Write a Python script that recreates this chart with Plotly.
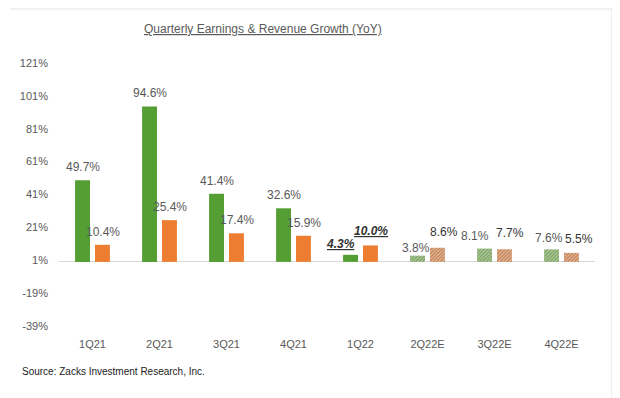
import plotly.graph_objects as go

quarters = ["1Q21", "2Q21", "3Q21", "4Q21", "1Q22", "2Q22E", "3Q22E", "4Q22E"]
earnings = [49.7, 94.6, 41.4, 32.6, 4.3, 3.8, 8.1, 7.6]
revenue = [10.4, 25.4, 17.4, 15.9, 10.0, 8.6, 7.7, 5.5]
estimate = [False, False, False, False, False, True, True, True]
y_ticks = [-39, -19, 1, 21, 41, 61, 81, 101, 121]

GREEN = "#559E34"
ORANGE = "#ED7D31"
GRAY = "#595959"
FONT = "Liberation Sans, Arial, sans-serif"


def pick(base, light):
    return [light if e else base for e in estimate]


fig = go.Figure()
fig.add_trace(go.Bar(
    x=quarters, y=earnings, name="Earnings",
    marker=dict(
        color=pick(GREEN, "#A9D18E"), line=dict(width=0),
        pattern=dict(shape=["/" if e else "" for e in estimate],
                     bgcolor=pick(GREEN, "#B0D696"), fgcolor=pick(GREEN, "#9BC781"),
                     size=2.5, solidity=0.4),
    ),
))
fig.add_trace(go.Bar(
    x=quarters, y=revenue, name="Revenue",
    marker=dict(
        color=pick(ORANGE, "#F4B183"), line=dict(width=0),
        pattern=dict(shape=["/" if e else "" for e in estimate],
                     bgcolor=pick(ORANGE, "#F6BA90"), fgcolor=pick(ORANGE, "#F1A676"),
                     size=2.5, solidity=0.4),
    ),
))

# label offsets in pixels (x relative to bar centre, y above bar top)
e_shift = [(0, 4), (0, 4), (0, 4), (0, 4), (-10, 2), (-2, -1), (-10, 4), (-3, 2)]
r_shift = [(0, 4), (0, 4), (0, 4), (0, 4), (0, 5), (6, 7), (5, 7), (7, 5)]
e_col = [GRAY, GRAY, GRAY, GRAY, "#333333", GRAY, GRAY, GRAY]
r_col = [GRAY, GRAY, GRAY, GRAY, "#333333", "#333333", "#333333", "#333333"]

for i, q in enumerate(quarters):
    for vals, shifts, cols, base in ((earnings, e_shift, e_col, -10), (revenue, r_shift, r_col, 10)):
        v = vals[i]
        txt = f"{v:.1f}%"
        if q == "1Q22":
            txt = f"<b><i><u>{txt}</u></i></b>"
        fig.add_annotation(
            x=q, y=v, text=txt, showarrow=False, yanchor="bottom",
            xshift=base + shifts[i][0], yshift=shifts[i][1],
            font=dict(family=FONT, size=12, color=cols[i]),
        )

fig.add_annotation(
    xref="paper", yref="paper", x=0.3807, y=1.0, yshift=34, yanchor="middle",
    text="<u>Quarterly Earnings & Revenue Growth (YoY)</u>", showarrow=False,
    font=dict(family=FONT, size=12, color=GRAY),
)
fig.add_annotation(
    xref="paper", yref="paper", x=-0.072, y=0, yshift=-45, xanchor="left", yanchor="middle",
    text="Source: Zacks Investment Research, Inc.", showarrow=False,
    font=dict(family=FONT, size=10, color="#222222"),
)

fig.update_layout(
    width=612, height=390,
    margin=dict(l=48.5, r=25, t=55, b=72),
    paper_bgcolor="white", plot_bgcolor="white",
    barmode="group", bargap=0.406, bargroupgap=0.25,
    showlegend=False,
    font=dict(family=FONT, color=GRAY),
    shapes=[
        dict(type="line", xref="paper", yref="paper", x0=-0.09, x1=1.0316, y0=1.2053, y1=1.2053,
             line=dict(color="#E3E3E3", width=1)),
        dict(type="line", xref="paper", yref="paper", x0=1.0316, x1=1.0316, y0=1.2053, y1=-0.274,
             line=dict(color="#E3E3E3", width=1)),
    ],
)
fig.update_xaxes(
    showline=False, showgrid=False, ticks="", ticklabelstandoff=10,
    tickfont=dict(family=FONT, size=11, color=GRAY),
)
fig.update_yaxes(
    range=[-39, 121], tickvals=y_ticks, ticktext=[f"{t}%" for t in y_ticks],
    showgrid=False, zeroline=True, zerolinecolor="#D9D9D9", zerolinewidth=1,
    ticklabelstandoff=10, tickfont=dict(family=FONT, size=11, color=GRAY),
)

fig.write_html("out.html")
